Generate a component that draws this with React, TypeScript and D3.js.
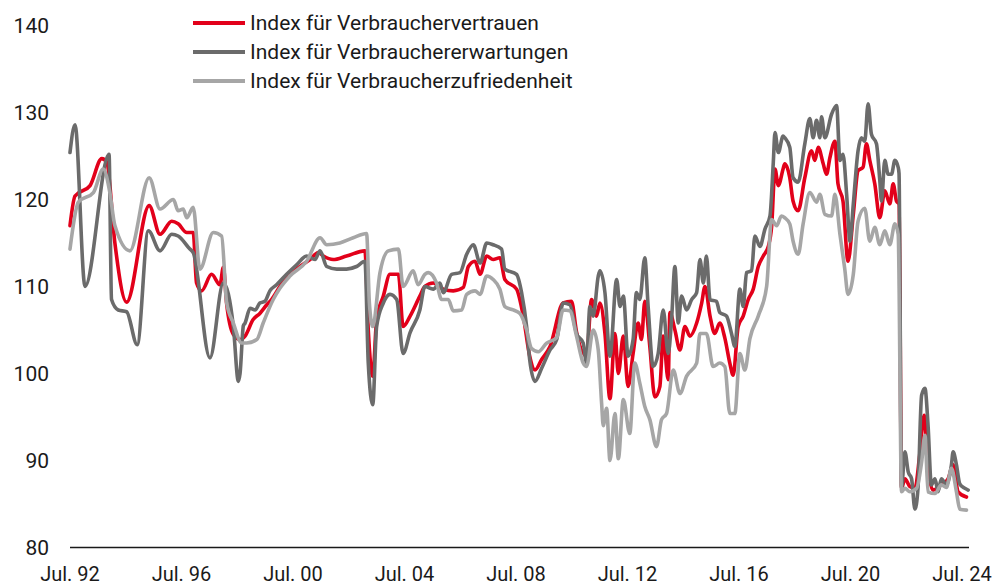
import React from "react";
import * as d3 from "d3";

const W = 993;
const H = 587;

const seriesNames = [
  "Index für Verbrauchervertrauen",
  "Index für Verbrauchererwartungen",
  "Index für Verbraucherzufriedenheit",
];

const yTicks = [80, 90, 100, 110, 120, 130, 140];
const xTickYears = [1992.5, 1996.5, 2000.5, 2004.5, 2008.5, 2012.5, 2016.5, 2020.5, 2024.5];
const xTickLabels = ["Jul. 92", "Jul. 96", "Jul. 00", "Jul. 04", "Jul. 08", "Jul. 12", "Jul. 16", "Jul. 20", "Jul. 24"];

// Verbrauchervertrauen (red)
const vertrauenDates = [
  1992.5, 1992.68, 1993.22, 1993.64, 1993.82, 1994.11, 1994.53, 1995.34, 1995.73, 1996.15,
  1996.38, 1996.69, 1996.92, 1997.04, 1997.22, 1997.58, 1997.88, 1998.0, 1998.12, 1998.36,
  1998.62, 1998.78, 1999.07, 1999.31, 1999.56, 1999.73, 2000.15, 2000.75, 2001.11, 2001.41,
  2001.59, 2001.94, 2002.42, 2003.08, 2003.2, 2003.36, 2003.5, 2003.74, 2003.98, 2004.28,
  2004.45, 2004.7, 2005.05, 2005.23, 2005.53, 2005.89, 2006.25, 2006.61, 2006.79, 2007.03,
  2007.21, 2007.45, 2007.68, 2007.92, 2008.1, 2008.52, 2008.76, 2008.99, 2009.18, 2009.42,
  2009.72, 2010.19, 2010.49, 2010.67, 2011.03, 2011.21, 2011.39, 2011.51, 2011.69, 2011.87,
  2012.05, 2012.17, 2012.35, 2012.52, 2012.7, 2012.88, 2013.0, 2013.12, 2013.3, 2013.48,
  2013.66, 2013.78, 2013.96, 2014.02, 2014.2, 2014.38, 2014.56, 2014.74, 2014.98, 2015.16,
  2015.28, 2015.46, 2015.63, 2015.81, 2015.99, 2016.17, 2016.29, 2016.47, 2016.65, 2016.83,
  2017.01, 2017.19, 2017.37, 2017.55, 2017.67, 2017.79, 2017.91, 2018.08, 2018.14, 2018.32,
  2018.44, 2018.62, 2018.86, 2019.1, 2019.22, 2019.34, 2019.52, 2019.64, 2019.76, 2019.94,
  2020.05, 2020.23, 2020.41, 2020.6, 2020.77, 2020.95, 2021.07, 2021.19, 2021.37, 2021.55,
  2021.73, 2021.91, 2022.03, 2022.15, 2022.24, 2022.33, 2022.45, 2022.63, 2022.81, 2022.98,
  2023.14, 2023.28, 2023.46, 2023.76, 2024.0, 2024.18, 2024.36, 2024.66,
];
const vertrauenValues = [
  117.0, 120.4, 121.6, 124.7, 124.3, 115.0, 108.2, 119.3, 116.0, 117.5,
  117.2, 116.2, 116.2, 110.4, 109.5, 111.4, 110.2, 112.2, 108.0, 104.5,
  103.9, 104.3, 106.2, 106.9, 107.9, 108.5, 110.6, 112.3, 113.1, 113.9,
  113.5, 113.1, 113.5, 114.1, 105.0, 99.7, 106.2, 108.9, 111.4, 111.4,
  105.4, 106.6, 108.9, 110.0, 110.4, 109.7, 109.5, 109.9, 112.3, 112.9,
  111.4, 113.5, 113.1, 113.3, 110.8, 109.7, 106.6, 102.0, 100.4, 101.6,
  103.1, 108.1, 108.3, 104.8, 102.0, 108.5, 106.6, 108.1, 104.6, 97.1,
  104.6, 100.0, 104.3, 98.5, 102.3, 105.8, 103.9, 108.3, 103.1, 97.3,
  98.5, 104.3, 99.3, 107.0, 105.0, 102.7, 105.4, 104.3, 105.8, 108.1,
  110.0, 106.6, 104.6, 105.8, 104.1, 101.2, 99.8, 105.4, 106.6, 108.5,
  109.7, 112.3, 113.5, 114.6, 116.9, 123.5, 121.6, 123.5, 124.1, 122.5,
  119.8, 118.7, 122.5, 125.6, 124.5, 126.0, 124.1, 122.9, 124.8, 126.7,
  121.8, 119.8, 112.9, 118.3, 123.3, 123.7, 126.4, 124.5, 121.8, 117.9,
  121.0, 119.5, 121.8, 119.8, 119.5, 86.8, 87.9, 87.0, 86.8, 90.6,
  95.2, 89.1, 86.6, 87.2, 87.9, 89.5, 86.4, 85.8,
];

// Verbrauchererwartungen (dark grey)
const erwartungenDates = [
  1992.5, 1992.68, 1993.04, 1993.9, 1993.99, 1994.23, 1994.53, 1994.91, 1995.31, 1995.73,
  1996.15, 1996.38, 1996.8, 1996.92, 1997.52, 1998.0, 1998.36, 1998.54, 1998.6, 1998.72,
  1998.78, 1998.96, 1999.14, 1999.31, 1999.49, 1999.67, 1999.91, 2000.27, 2000.63, 2000.99,
  2001.29, 2001.47, 2001.71, 2002.07, 2002.42, 2002.78, 2003.08, 2003.2, 2003.36, 2003.5,
  2003.74, 2003.98, 2004.22, 2004.45, 2004.7, 2005.05, 2005.23, 2005.53, 2005.77, 2005.89,
  2006.19, 2006.49, 2006.73, 2006.97, 2007.21, 2007.45, 2007.68, 2007.98, 2008.1, 2008.52,
  2008.7, 2008.88, 2008.99, 2009.18, 2009.42, 2009.72, 2009.96, 2010.19, 2010.43, 2010.67,
  2010.91, 2011.03, 2011.15, 2011.27, 2011.45, 2011.51, 2011.69, 2011.87, 2012.11, 2012.23,
  2012.35, 2012.52, 2012.7, 2012.82, 2012.94, 2013.12, 2013.24, 2013.42, 2013.6, 2013.78,
  2013.96, 2014.08, 2014.2, 2014.32, 2014.44, 2014.62, 2014.8, 2014.98, 2015.1, 2015.22,
  2015.33, 2015.46, 2015.69, 2015.81, 2016.05, 2016.23, 2016.35, 2016.53, 2016.65, 2016.77,
  2016.95, 2017.07, 2017.25, 2017.43, 2017.61, 2017.73, 2017.79, 2017.91, 2018.08, 2018.14,
  2018.32, 2018.44, 2018.62, 2018.86, 2019.04, 2019.16, 2019.28, 2019.4, 2019.46, 2019.58,
  2019.82, 2020.0, 2020.12, 2020.23, 2020.36, 2020.48, 2020.6, 2020.77, 2020.89, 2021.01,
  2021.13, 2021.25, 2021.43, 2021.55, 2021.61, 2021.73, 2021.85, 2021.97, 2022.09, 2022.21,
  2022.24, 2022.33, 2022.45, 2022.57, 2022.69, 2022.81, 2022.92, 2023.05, 2023.17, 2023.28,
  2023.4, 2023.53, 2023.64, 2023.76, 2023.94, 2024.12, 2024.18, 2024.3, 2024.42, 2024.6,
  2024.72,
];
const erwartungenValues = [
  125.4, 128.6, 110.0, 125.2, 108.5, 107.3, 107.1, 103.3, 116.4, 114.1,
  116.0, 115.8, 114.3, 113.9, 101.8, 110.4, 105.4, 99.1, 100.0, 105.5,
  105.8, 107.5, 107.3, 108.1, 108.3, 109.5, 110.2, 111.4, 112.5, 113.5,
  113.1, 114.1, 112.3, 112.0, 112.0, 112.3, 112.9, 101.2, 96.4, 105.4,
  108.1, 109.1, 108.5, 102.3, 104.7, 107.3, 110.0, 109.7, 110.4, 109.3,
  111.4, 111.6, 113.7, 114.8, 112.7, 115.0, 114.8, 114.3, 112.0, 111.4,
  109.3, 105.4, 101.6, 99.1, 100.6, 102.7, 103.9, 108.1, 107.9, 104.6,
  103.5, 101.2, 107.7, 106.6, 111.2, 111.8, 109.3, 102.0, 110.8, 107.7,
  108.9, 102.0, 103.9, 109.3, 108.5, 113.3, 107.7, 100.8, 102.3, 107.3,
  102.3, 106.2, 112.3, 105.8, 108.9, 107.3, 108.5, 109.3, 113.1, 110.4,
  113.5, 108.5, 108.3, 107.0, 106.6, 104.6, 103.1, 109.7, 107.7, 111.6,
  111.8, 115.8, 114.6, 116.6, 118.1, 124.3, 127.7, 125.4, 127.3, 127.1,
  126.0, 122.5, 122.0, 126.4, 129.3, 127.1, 129.1, 127.1, 129.5, 127.1,
  129.8, 130.8, 124.5, 125.2, 120.6, 115.2, 119.5, 125.6, 127.1, 126.7,
  131.0, 127.5, 126.4, 122.2, 119.8, 124.5, 122.9, 122.9, 124.5, 123.7,
  123.0, 86.8, 91.0, 88.7, 87.9, 84.4, 86.8, 97.5, 98.3, 94.1,
  87.2, 87.9, 86.4, 87.9, 87.2, 89.5, 91.0, 89.5, 87.3, 86.8,
  86.6,
];

// Verbraucherzufriedenheit (light grey)
const zufriedenheitDates = [
  1992.5, 1992.8, 1993.34, 1993.69, 1993.93, 1994.11, 1994.65, 1995.34, 1995.73, 1996.21,
  1996.38, 1996.56, 1996.69, 1996.92, 1997.16, 1997.64, 1997.94, 1998.12, 1998.36, 1998.66,
  1998.84, 1999.2, 1999.43, 1999.79, 2000.03, 2000.39, 2000.99, 2001.47, 2001.71, 2002.18,
  2002.66, 2003.14, 2003.24, 2003.36, 2003.62, 2003.92, 2004.28, 2004.45, 2004.81, 2004.99,
  2005.23, 2005.35, 2005.65, 2005.83, 2006.07, 2006.25, 2006.55, 2006.73, 2007.03, 2007.21,
  2007.45, 2007.68, 2007.92, 2008.1, 2008.4, 2008.64, 2008.88, 2009.05, 2009.3, 2009.6,
  2009.96, 2010.19, 2010.43, 2010.67, 2010.91, 2011.03, 2011.27, 2011.45, 2011.57, 2011.63,
  2011.75, 2011.87, 2012.05, 2012.17, 2012.35, 2012.58, 2012.76, 2012.94, 2013.12, 2013.3,
  2013.54, 2013.72, 2013.9, 2014.14, 2014.38, 2014.62, 2014.98, 2015.1, 2015.33, 2015.57,
  2015.81, 2015.99, 2016.17, 2016.35, 2016.53, 2016.71, 2016.89, 2017.19, 2017.49, 2017.67,
  2017.85, 2018.02, 2018.14, 2018.32, 2018.44, 2018.62, 2018.8, 2019.04, 2019.28, 2019.4,
  2019.58, 2019.82, 2019.94, 2020.12, 2020.29, 2020.41, 2020.6, 2020.77, 2021.01, 2021.19,
  2021.37, 2021.55, 2021.73, 2021.91, 2022.09, 2022.21, 2022.33, 2022.45, 2022.63, 2022.87,
  2023.05, 2023.17, 2023.28, 2023.53, 2023.76, 2023.94, 2024.12, 2024.3, 2024.42, 2024.66,
];
const zufriedenheitValues = [
  114.3, 119.7, 120.8, 123.5, 120.8, 117.0, 114.1, 122.5, 118.9, 120.0,
  118.7, 118.9, 117.9, 119.1, 112.0, 116.2, 115.8, 108.1, 105.8, 103.5,
  103.5, 103.9, 105.8, 108.5, 109.8, 111.2, 112.9, 115.6, 114.8, 115.0,
  115.6, 116.1, 108.1, 105.4, 111.6, 114.1, 114.3, 110.0, 111.8, 110.2,
  111.4, 111.6, 110.4, 108.5, 108.5, 107.2, 107.3, 109.1, 109.5, 109.1,
  111.2, 110.8, 109.7, 107.7, 107.3, 106.9, 105.0, 102.9, 102.5, 103.5,
  104.1, 107.3, 107.2, 104.3, 101.2, 100.8, 105.0, 102.7, 96.6, 94.0,
  96.0, 90.0, 95.4, 90.2, 97.0, 93.1, 101.2, 98.9, 96.2, 94.7,
  91.6, 94.7, 95.4, 100.4, 97.7, 99.7, 101.2, 104.6, 104.6, 100.8,
  101.2, 100.8, 95.4, 95.4, 102.3, 100.4, 104.0, 106.6, 110.0, 117.7,
  117.0, 118.1, 117.9, 117.2, 115.2, 113.7, 117.2, 120.8, 119.7, 120.6,
  118.3, 118.1, 120.6, 116.0, 112.1, 109.1, 111.4, 117.5, 119.0, 115.2,
  116.8, 114.8, 116.4, 114.8, 117.2, 116.0, 86.4, 86.8, 86.4, 86.8,
  89.8, 92.9, 86.4, 86.2, 87.2, 86.9, 89.1, 86.4, 84.4, 84.3,
];

const colors = ["#e2001a", "#6b6b6b", "#a6a6a6"];

const FONT = "Roboto, 'DejaVu Sans', sans-serif";
const FS = 21;

export default function App() {
  const x = d3.scaleLinear().domain([1992.5, 2024.75]).range([70, 969]);
  const y = d3.scaleLinear().domain([80, 140]).range([547.5, 25.5]);

  const series = [
    { name: seriesNames[0], dates: vertrauenDates, values: vertrauenValues, color: colors[0] },
    { name: seriesNames[1], dates: erwartungenDates, values: erwartungenValues, color: colors[1] },
    { name: seriesNames[2], dates: zufriedenheitDates, values: zufriedenheitValues, color: colors[2] },
  ];

  const line = d3
    .line<[number, number]>()
    .x((d) => x(d[0]))
    .y((d) => y(d[1]))
    .curve(d3.curveMonotoneX);

  const legendY = [23, 52, 81];

  return (
    <svg
      width={W}
      height={H}
      style={{ position: "absolute", left: 0, top: 0, background: "#fff" }}
      fontFamily={FONT}
    >
      {yTicks.map((t) => (
        <text key={t} x={49} y={y(t)} dy="0.35em" textAnchor="end" fontSize={FS} fill="#1a1a1a">
          {t}
        </text>
      ))}
      {series.map((s) => (
        <path
          key={s.name}
          d={line(s.dates.map((d, i) => [d, s.values[i]] as [number, number])) || ""}
          fill="none"
          stroke={s.color}
          strokeWidth={3.6}
          strokeLinejoin="round"
          strokeLinecap="round"
        />
      ))}
      <line x1={x.range()[0]} x2={x.range()[1]} y1={y(80)} y2={y(80)} stroke="#1a1a1a" strokeWidth={1.6} />
      {xTickYears.map((t, i) => (
        <text key={t} x={x(t)} y={581} textAnchor="middle" fontSize={20} fill="#1a1a1a">
          {xTickLabels[i]}
        </text>
      ))}
      {series.map((s, i) => (
        <g key={"lg" + i}>
          <line x1={193} x2={245} y1={legendY[i]} y2={legendY[i]} stroke={s.color} strokeWidth={4} />
          <text x={250} y={legendY[i]} dy="0.35em" fontSize={FS} fill="#1a1a1a">
            {s.name}
          </text>
        </g>
      ))}
    </svg>
  );
}
